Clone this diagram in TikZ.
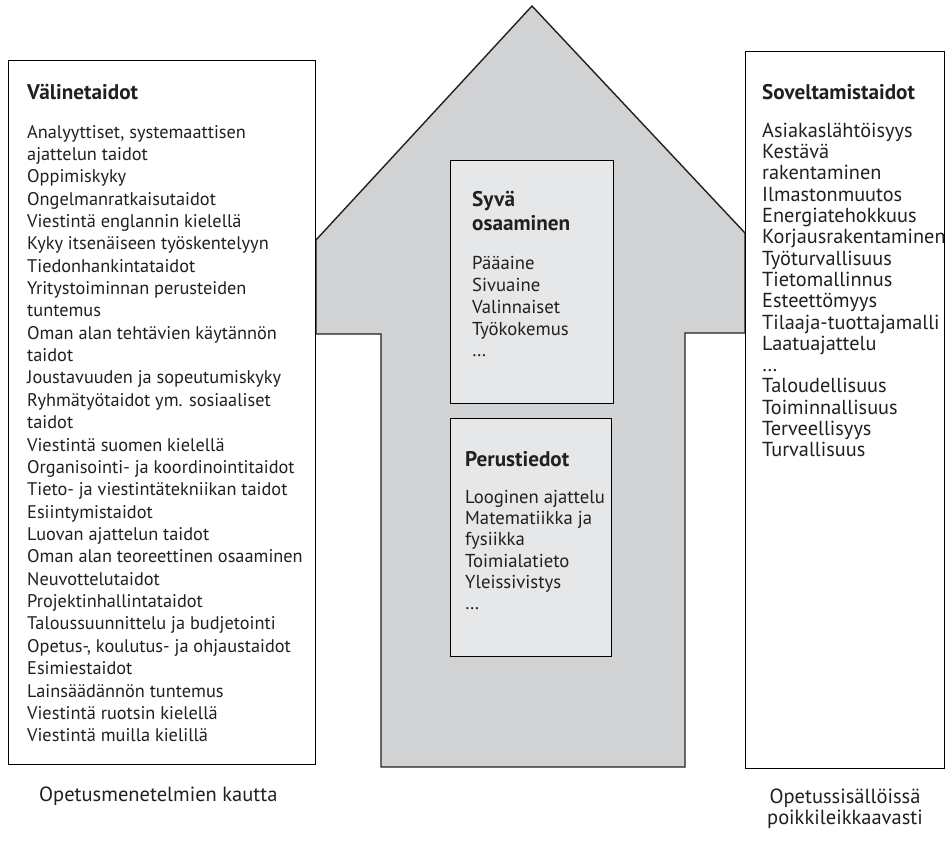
\documentclass[tikz,border=0pt]{standalone}
\usepackage{fontspec}
\setmainfont{PT Sans}
\definecolor{arrowgray}{HTML}{D1D2D4}
\definecolor{boxgray}{HTML}{E6E7E8}
\definecolor{ink}{HTML}{231F20}
\begin{document}
\begin{tikzpicture}[x=1pt,y=-1pt,
  txt/.style={inner sep=0pt, anchor=base west, text=ink},
  leftfont/.style={font=\fontsize{18.3}{22}\selectfont},
  rightfont/.style={font=\fontsize{20.3}{22}\selectfont},
  midfont/.style={font=\fontsize{18.7}{22}\selectfont},
  capfont/.style={font=\fontsize{20.5}{22}\selectfont},
  titlefont/.style={font=\fontsize{21.2}{24}\selectfont\bfseries},
  panel/.style={draw=black, line width=1pt, fill=white, anchor=north west, inner sep=0pt},
  innerbox/.style={draw=black, line width=1pt, fill=boxgray, anchor=north west, inner sep=0pt}]
\useasboundingbox (0,0) rectangle (947,843);
% big arrow
\draw[draw=ink, line width=1.4pt, fill=arrowgray, line join=miter]
  (532,6) -- (745,233) -- (745,333) -- (685,333) -- (685,767) -- (381,767)
  -- (381,334) -- (316,334) -- (316,240) -- cycle;
% side panels
\node[panel, minimum width=307pt, minimum height=704pt] (leftbox) at (8,60) {};
\node[panel, minimum width=199pt, minimum height=717pt] (rightbox) at (745,51) {};
% inner boxes
\node[innerbox, minimum width=163pt, minimum height=243pt] (deepbox) at (450,160) {};
\node[innerbox, minimum width=161pt, minimum height=238pt] (basebox) at (450,418) {};
% left panel text
\node[txt, titlefont] (lefttitle) at (27,99) {Välinetaidot};
\foreach \t [count=\i] in {{Analyyttiset, systemaattisen},ajattelun taidot,Oppimiskyky,
  Ongelmanratkaisutaidot,Viestintä englannin kielellä,Kyky itsenäiseen työskentelyyn,
  Tiedonhankintataidot,Yritystoiminnan perusteiden,tuntemus,Oman alan tehtävien käytännön,
  taidot,Joustavuuden ja sopeutumiskyky,Ryhmätyötaidot ym. sosiaaliset,taidot,
  Viestintä suomen kielellä,Organisointi- ja koordinointitaidot,
  Tieto- ja viestintätekniikan taidot,Esiintymistaidot,Luovan ajattelun taidot,
  Oman alan teoreettinen osaaminen,Neuvottelutaidot,Projektinhallintataidot,
  Taloussuunnittelu ja budjetointi,{Opetus-, koulutus- ja ohjaustaidot},Esimiestaidot,
  Lainsäädännön tuntemus,Viestintä ruotsin kielellä,Viestintä muilla kielillä}
  \node[txt, leftfont] (L\i) at (27,{138+(\i-1)*22.36}) {\t};
% right panel text
\node[txt, titlefont] (righttitle) at (762,99) {Soveltamistaidot};
\foreach \t [count=\i] in {Asiakaslähtöisyys,Kestävä,rakentaminen,Ilmastonmuutos,
  Energiatehokkuus,Korjausrakentaminen,Työturvallisuus,Tietomallinnus,Esteettömyys,
  Tilaaja-tuottajamalli,Laatuajattelu,…,Taloudellisuus,Toiminnallisuus,Terveellisyys,
  Turvallisuus}
  \node[txt, rightfont] (R\i) at (762,{137.3+(\i-1)*21.3}) {\t};
% deep knowledge box
\node[txt, titlefont] (deeptitleA) at (472,206.7) {Syvä};
\node[txt, titlefont] (deeptitleB) at (472,230) {osaaminen};
\foreach \t [count=\i] in {Pääaine,Sivuaine,Valinnaiset,Työkokemus,…}
  \node[txt, midfont] (D\i) at (472,{269.3+(\i-1)*21.9}) {\t};
% basic knowledge box
\node[txt, titlefont] (basetitle) at (465,466) {Perustiedot};
\foreach \t [count=\i] in {Looginen ajattelu,Matematiikka ja,fysiikka,Toimialatieto,
  Yleissivistys,…}
  \node[txt, midfont] (B\i) at (465,{503.3+(\i-1)*21.25}) {\t};
% bottom captions
\node[txt, capfont] (leftcap) at (39,801) {Opetusmenetelmien kautta};
\node[txt, capfont, anchor=base] (rightcapA) at (845,803) {Opetussisällöissä};
\node[txt, capfont, anchor=base] (rightcapB) at (845,824.5) {poikkileikkaavasti};
\end{tikzpicture}
\end{document}
